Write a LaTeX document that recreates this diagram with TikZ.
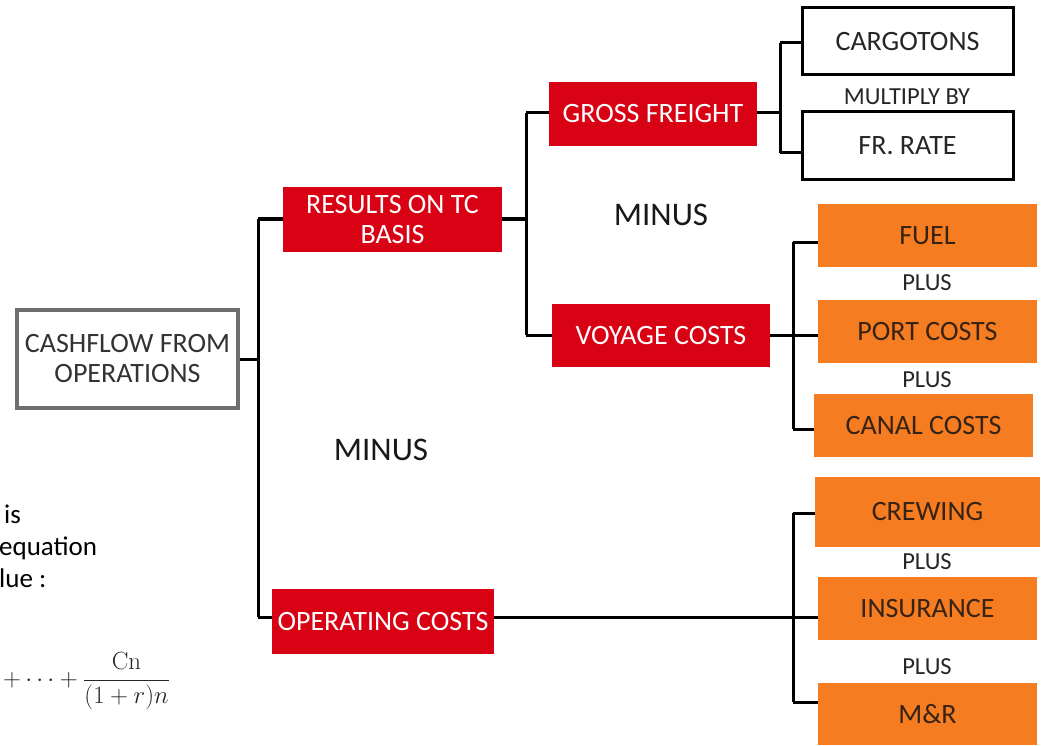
\documentclass[tikz,border=0pt]{standalone}
\usepackage[no-math]{fontspec}
\setmainfont{Carlito}
\definecolor{cred}{RGB}{216,2,20}
\definecolor{corange}{RGB}{245,124,32}
\definecolor{cotext}{RGB}{55,35,20}
\definecolor{cgray}{RGB}{110,110,110}
\begin{document}
\begin{tikzpicture}[x=1pt,y=-1pt,
  basebox/.style={inner sep=0pt, align=center, font=\fontsize{28}{30}\selectfont},
  whitebox/.style={basebox, draw=black, line width=3pt, fill=white, text=black!85},
  graybox/.style={basebox, draw=cgray, line width=3.5pt, fill=white, text=black!80},
  redbox/.style={basebox, fill=cred, text=white},
  orbox/.style={basebox, fill=corange, text=cotext},
  lbl/.style={inner sep=0pt, font=\fontsize{24.5}{26}\selectfont, text=black!85},
  bigl/.style={inner sep=0pt, font=\fontsize{33}{35}\selectfont, text=black!90},
  side/.style={inner sep=0pt, anchor=base west, font=\fontsize{27}{29}\selectfont, text=black},
  conn/.style={line width=3pt, black}]
\useasboundingbox (0,0) rectangle (1049,746);
\fill[white] (0,0) rectangle (1049,746);

% boxes
\node[graybox, minimum width=221pt, minimum height=98pt] (cash) at (127.5,359) {CASHFLOW FROM\\OPERATIONS};
\node[redbox, minimum width=219pt, minimum height=65pt] (results) at (392.5,219.5) {RESULTS ON TC\\BASIS};
\node[redbox, minimum width=208pt, minimum height=64pt] (gross) at (653,114) {GROSS FREIGHT};
\node[redbox, minimum width=218pt, minimum height=63pt] (voyage) at (661,335.5) {VOYAGE COSTS};
\node[redbox, minimum width=222pt, minimum height=65pt] (operating) at (383,621.5) {OPERATING COSTS};
\node[whitebox, minimum width=211pt, minimum height=67pt] (cargo) at (907.5,41.5) {CARGOTONS};
\node[whitebox, minimum width=211pt, minimum height=68pt] (frrate) at (907.5,146) {FR. RATE};
\node[orbox, minimum width=219pt, minimum height=63pt] (fuel) at (927.5,235.5) {FUEL};
\node[orbox, minimum width=219pt, minimum height=63pt] (port) at (927.5,331.5) {PORT COSTS};
\node[orbox, minimum width=219pt, minimum height=63pt] (canal) at (923.5,425.5) {CANAL COSTS};
\node[orbox, minimum width=225pt, minimum height=70pt] (crewing) at (927.5,512) {CREWING};
\node[orbox, minimum width=219pt, minimum height=63pt] (insurance) at (927.5,608.5) {INSURANCE};
\node[orbox, minimum width=219pt, minimum height=62pt] (mr) at (927.5,714) {M\&R};

% labels
\node[lbl] (mult) at (907,97) {MULTIPLY BY};
\node[bigl] (minus1) at (661,215) {MINUS};
\node[bigl] (minus2) at (381,450) {MINUS};
\node[lbl] (plus1) at (927,283) {PLUS};
\node[lbl] (plus2) at (927,380) {PLUS};
\node[lbl] (plus3) at (927,562) {PLUS};
\node[lbl] (plus4) at (927,667) {PLUS};

% cut-off side text
\node[side] (s1) at (4,523) {is};
\node[side] (s2) at (-1,555) {equation};
\node[side] (s3) at (-1,587) {lue :};
\node[inner sep=0pt, anchor=west, font=\fontsize{26}{28}\selectfont, text=black!85] (s4) at (3,681)
  {$\displaystyle +\cdots+\frac{\mathrm{Cn}}{(1+r)n}$};

% connector coordinates
\coordinate (t1a) at (258,219);
\coordinate (t1b) at (258,617);
\coordinate (t2a) at (526,113);
\coordinate (t2b) at (526,335);
\coordinate (t3a) at (780,43);
\coordinate (t3b) at (780,153);
\coordinate (t4a) at (793,242);
\coordinate (t4b) at (793,429);
\coordinate (t5a) at (793,513);
\coordinate (t5b) at (793,702);

% level 1
\draw[conn] (cash.east) -- (cash.east -| t1a);
\draw[conn] (t1a) -- (t1b);
\draw[conn] (t1a) -- (t1a -| results.west);
\draw[conn] (t1b) -- (t1b -| operating.west);
% results branch
\draw[conn] (results.east |- t1a) -- (t1a -| t2a);
\draw[conn] (t2a) -- (t2b);
\draw[conn] (t2a) -- (t2a -| gross.west);
\draw[conn] (t2b) -- (t2b -| voyage.west);
% gross branch
\draw[conn] (gross.east |- t2a) -- (t2a -| t3a);
\draw[conn] (t3a) -- (t3b);
\draw[conn] (t3a) -- (t3a -| cargo.west);
\draw[conn] (t3b) -- (t3b -| frrate.west);
% voyage branch
\draw[conn] (voyage.east |- t2b) -- (t2b -| port.west);
\draw[conn] (t4a) -- (t4b);
\draw[conn] (t4a) -- (t4a -| fuel.west);
\draw[conn] (t4b) -- (t4b -| canal.west);
% operating branch
\draw[conn] (operating.east |- t1b) -- (t1b -| insurance.west);
\draw[conn] (t5a) -- (t5b);
\draw[conn] (t5a) -- (t5a -| crewing.west);
\draw[conn] (t5b) -- (t5b -| mr.west);
\end{tikzpicture}
\end{document}
